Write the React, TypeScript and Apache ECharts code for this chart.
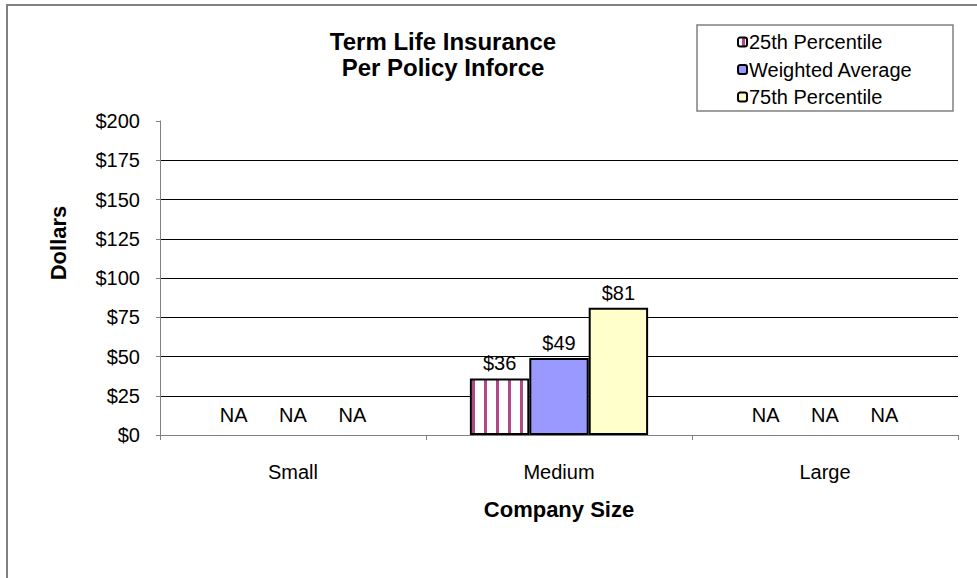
import React, { useEffect, useRef } from "react";
import * as echarts from "echarts";

const categories = ["Small", "Medium", "Large"];
const seriesNames = ["25th Percentile", "Weighted Average", "75th Percentile"];
const p25 = [null, 36, null];
const weightedAvg = [null, 49, null];
const p75 = [null, 81, null];
const yTicks = [0, 25, 50, 75, 100, 125, 150, 175, 200];

const FONT = "'Liberation Sans', Arial, sans-serif";

function makeStripe(): any {
  const c = document.createElement("canvas");
  c.width = 12;
  c.height = 12;
  const ctx = c.getContext("2d")!;
  ctx.fillStyle = "#ffffff";
  ctx.fillRect(0, 0, 12, 12);
  ctx.fillStyle = "#b04a86";
  ctx.fillRect(4, 0, 3, 12);
  return c;
}

export default function App() {
  const ref = useRef<HTMLDivElement>(null);
  useEffect(() => {
    if (!ref.current) return;
    const chart = echarts.init(ref.current, null, { renderer: "svg" });
    const stripe = makeStripe();
    const fills: any[] = [
      { image: stripe, repeat: "repeat" },
      "#9999ff",
      "#ffffcc",
    ];
    const raw = [p25, weightedAvg, p75];
    const series = raw.map((vals, i) => ({
      name: seriesNames[i],
      type: "bar",
      barGap: "0%",
      barCategoryGap: "33%",
      itemStyle: { color: fills[i], borderColor: "#000", borderWidth: 2 },
      label: {
        show: true,
        position: "top",
        distance: 5,
        fontFamily: FONT,
        fontSize: 20,
        lineHeight: 20,
        color: "#000",
        formatter: (p: any) => "$" + p.value,
      },
      data: vals.map((v) =>
        v === null
          ? {
              value: 0,
              itemStyle: { borderWidth: 0, color: "transparent" },
              label: { formatter: "NA", distance: 10 },
            }
          : v
      ),
    }));
    const gridColors = yTicks.map((t) => (t === 200 ? "transparent" : "#000"));
    chart.setOption({
      animation: false,
      backgroundColor: "#fff",
      textStyle: { fontFamily: FONT },
      grid: { left: 160, right: 19, top: 121, bottom: 143 },
      legend: {
        orient: "vertical",
        left: 737,
        top: 32,
        padding: 0,
        itemWidth: 9,
        itemHeight: 9,
        itemGap: 7.5,
        data: seriesNames.map((n) => ({
          name: n,
          itemStyle: { borderColor: "#000", borderWidth: 2 },
        })),
        textStyle: { fontFamily: FONT, fontSize: 20, color: "#000", padding: [0, 0, 0, -3], lineHeight: 20 },
      },
      xAxis: {
        type: "category",
        data: categories,
        axisLine: { lineStyle: { color: "#808080", width: 1 } },
        axisTick: { show: true, length: 5, lineStyle: { color: "#808080" } },
        axisLabel: { fontFamily: FONT, fontSize: 20, lineHeight: 22, color: "#000", margin: 26 },
        splitLine: { show: false },
      },
      yAxis: {
        type: "value",
        min: 0,
        max: 200,
        interval: 25,
        axisLine: { show: true, lineStyle: { color: "#808080" } },
        axisTick: { show: true, length: 4, inside: false, lineStyle: { color: "#808080" } },
        axisLabel: {
          fontFamily: FONT,
          fontSize: 20,
          color: "#000",
          margin: 20,
          formatter: (v: number) => "$" + v,
        },
        splitLine: { show: true, lineStyle: { color: gridColors, width: 1 } },
      },
      graphic: [
        {
          type: "rect",
          shape: { x: 7, y: 5, width: 1000, height: 1000 },
          style: { fill: "none", stroke: "#808080", lineWidth: 2 },
          silent: true,
          z: -1,
        },
        {
          type: "rect",
          shape: { x: 697, y: 25, width: 256, height: 86 },
          style: { fill: "none", stroke: "#808080", lineWidth: 1.5 },
          silent: true,
        },
        {
          type: "text",
          x: 443,
          y: 41,
          style: {
            text: "Term Life Insurance",
            font: "bold 24px " + FONT,
            fill: "#000",
            align: "center",
            verticalAlign: "middle",
          },
        },
        {
          type: "text",
          x: 443,
          y: 67,
          style: {
            text: "Per Policy Inforce",
            font: "bold 24px " + FONT,
            fill: "#000",
            align: "center",
            verticalAlign: "middle",
          },
        },
        {
          type: "text",
          x: 559,
          y: 509,
          style: {
            text: "Company Size",
            font: "bold 22px " + FONT,
            fill: "#000",
            align: "center",
            verticalAlign: "middle",
          },
        },
        {
          type: "text",
          x: 58,
          y: 243,
          rotation: Math.PI / 2,
          style: {
            text: "Dollars",
            font: "bold 22px " + FONT,
            fill: "#000",
            align: "center",
            verticalAlign: "middle",
          },
        },
      ],
      series,
    });
    return () => chart.dispose();
  }, []);
  return <div ref={ref} style={{ width: 977, height: 578, position: "absolute", left: 0, top: 0 }} />;
}
